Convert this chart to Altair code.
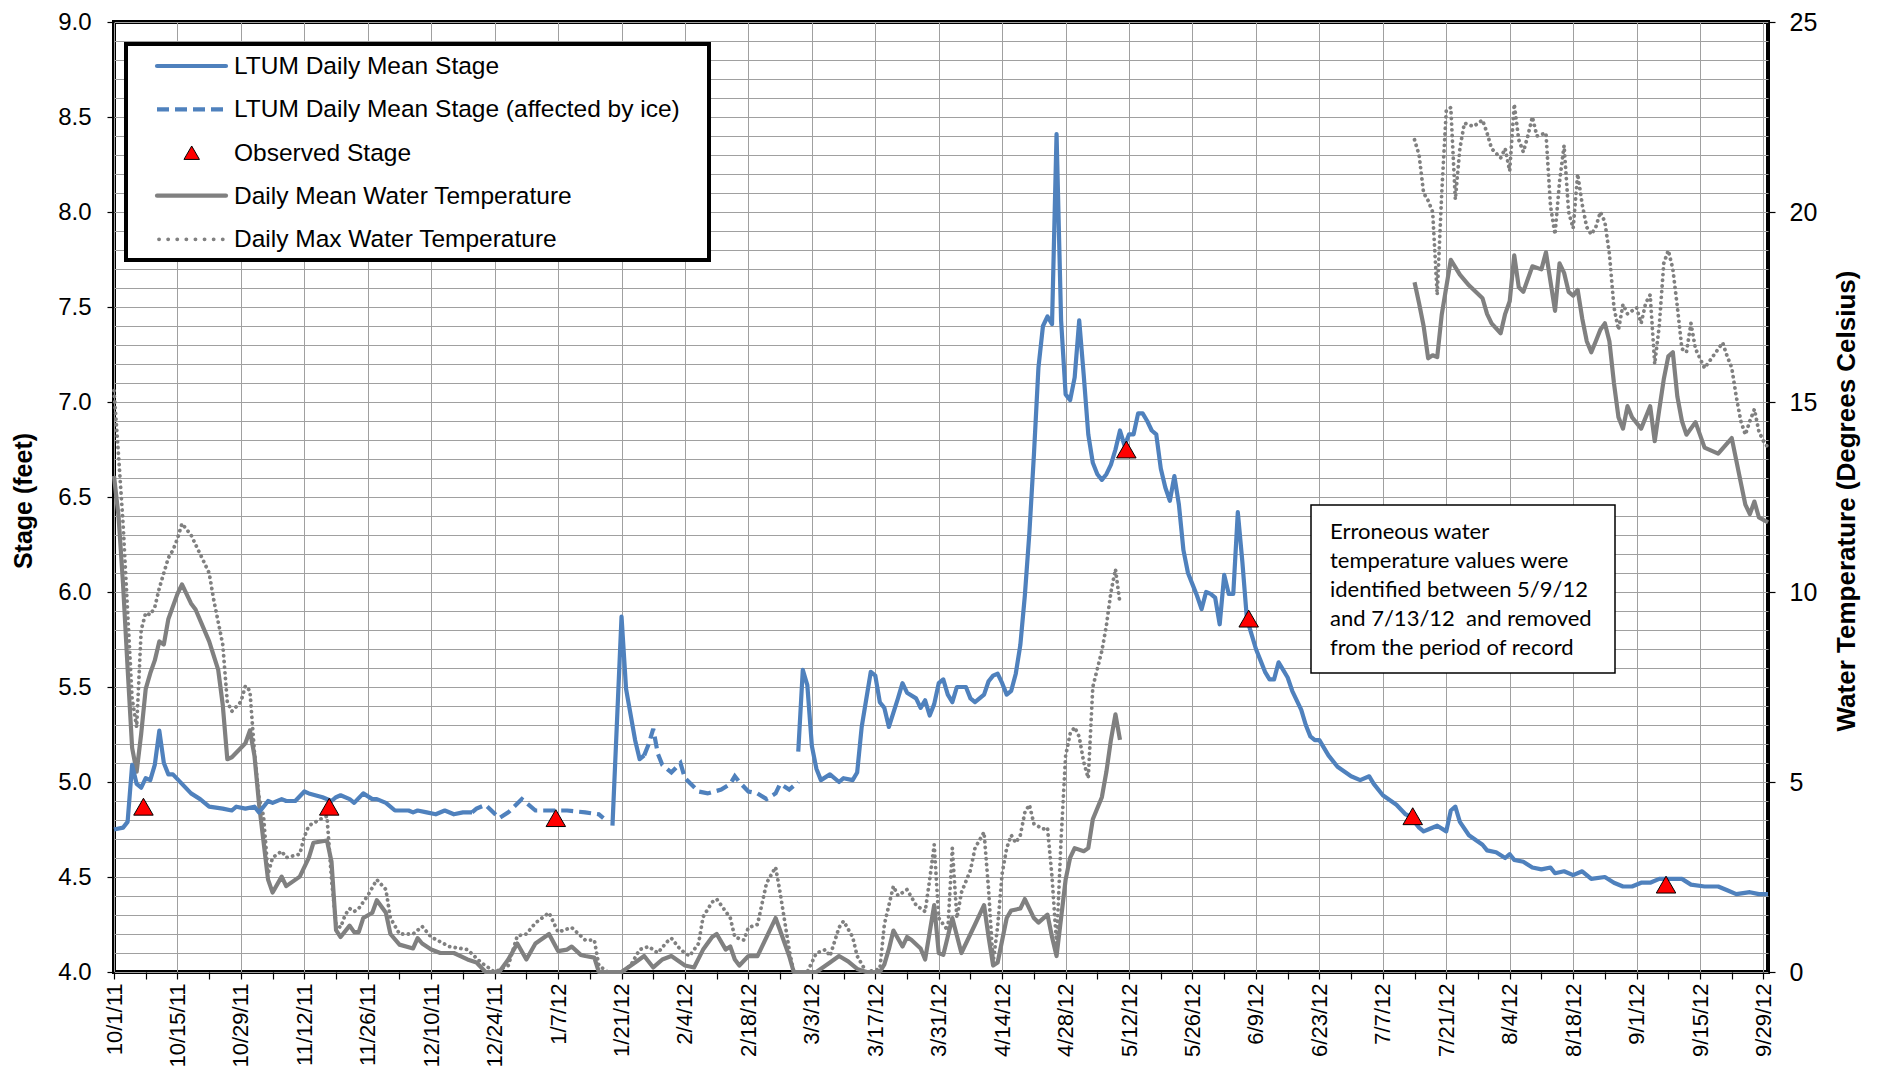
import json
import altair as alt
import pandas as pd

# ---------------- data (day = days after 10/1/2011) ----------------
STAGE_SOLID_1 = [(0,4.75),(2,4.76),(3,4.79),(4,5.09),(5,4.99),(6,4.97),(7,5.02),(8,5.01),(9,5.09),(10,5.27),
    (11,5.10),(12,5.04),(13,5.04),(15,4.99),(17,4.94),(19,4.91),(21,4.87),(24,4.86),(26,4.85),(27,4.87),
    (29,4.86),(31,4.87),(32,4.84),(33,4.87),(34,4.90),(35,4.89),(37,4.91),(38,4.90),(40,4.90),(42,4.95),
    (43,4.94),(46,4.92),(48,4.90),(49,4.92),(50,4.93),(52,4.91),(53,4.89),(55,4.94),(57,4.91),(58,4.91),
    (60,4.89),(62,4.85),(63,4.85),(65,4.85),(66,4.84),(67,4.85),(69,4.84),(71,4.83),(73,4.85),(75,4.83),
    (77,4.84),(79,4.84)]
STAGE_ICE_1 = [(79,4.84),(80,4.86),(82,4.88),(85,4.81),(87,4.84),(90,4.91),(93,4.85),(96,4.85),(100,4.85),
    (104,4.84),(107,4.83),(108,4.81)]
STAGE_SOLID_2 = [(110,4.77),(112,5.87),(113,5.49),(115,5.22),(116,5.12),(117,5.14)]
STAGE_ICE_2 = [(117,5.14),(118,5.20),(119,5.28),(120,5.15),(121,5.09),(123,5.05),(125,5.10),(126,5.02),
    (129,4.95),(131,4.94),(134,4.96),(136,4.99),(137,5.03),(138,5.00),(140,4.95),(142,4.94),(144,4.91),
    (146,4.94),(147,4.99),(149,4.96),(151,5.00)]
STAGE_SOLID_3 = [(151,5.16),(152,5.59),(153,5.51),(154,5.19),(155,5.07),(156,5.01),(158,5.04),(160,5.00),
    (161,5.02),(163,5.01),(164,5.05),(165,5.29),(167,5.58),(168,5.56),(169,5.42),(170,5.39),(171,5.29),
    (173,5.44),(174,5.52),(175,5.47),(177,5.44),(178,5.39),(179,5.43),(180,5.35),(181,5.41),(182,5.52),
    (183,5.54),(184,5.46),(185,5.42),(186,5.50),(188,5.50),(189,5.44),(190,5.42),(192,5.46),(193,5.53),
    (194,5.56),(195,5.57),(196,5.52),(197,5.46),(198,5.48),(199,5.57),(200,5.72),(201,5.98),(202,6.31),
    (203,6.72),(204,7.18),(205,7.40),(206,7.45),(207,7.41),(208,8.41),(209,7.43),(210,7.04),(211,7.01),
    (212,7.13),(213,7.43),(214,7.14),(215,6.83),(216,6.68),(217,6.62),(218,6.59),(219,6.62),(220,6.67),
    (221,6.75),(222,6.85),(223,6.77),(224,6.83),(225,6.83),(226,6.94),(227,6.94),(228,6.90),(229,6.85),
    (230,6.83),(231,6.65),(232,6.55),(233,6.48),(234,6.61),(235,6.46),(236,6.22),(237,6.10),(238,6.04),
    (239,5.98),(240,5.91),(241,6.00),(242,5.99),(243,5.97),(244,5.83),(245,6.09),(246,5.99),(247,5.99),
    (248,6.42),(249,6.16),(250,5.86),(251,5.78),(252,5.70),(253,5.64),(254,5.58),(255,5.54),(256,5.54),
    (257,5.63),(258,5.59),(259,5.55),(260,5.48),(261,5.43),(262,5.38),(263,5.30),(264,5.24),(265,5.22),
    (266,5.22),(268,5.14),(270,5.08),(273,5.03),(275,5.01),(277,5.03),(278,4.99),(280,4.93),(283,4.88),
    (285,4.83),(286,4.82),(287,4.79),(288,4.76),(289,4.74),(290,4.75),(292,4.77),(294,4.74),(295,4.85),
    (296,4.87),(297,4.79),(299,4.72),(302,4.67),(303,4.64),(305,4.63),(307,4.60),(308,4.62),(309,4.59),
    (311,4.58),(313,4.55),(315,4.54),(317,4.55),(318,4.52),(320,4.53),(322,4.51),(324,4.53),(326,4.49),
    (329,4.50),(331,4.47),(333,4.45),(335,4.45),(337,4.47),(339,4.47),(341,4.49),(343,4.49),(346,4.49),
    (348,4.46),(351,4.45),(354,4.45),(356,4.43),(358,4.41),(361,4.42),(363,4.41),(365,4.41)]
OBSERVED_STAGE = [(6.5,4.87),(47.5,4.87),(97.5,4.81),(223.4,6.75),(250.4,5.86),(286.6,4.82),(342.5,4.46)]

TEMP_MEAN_1 = [(0,13.05),(1,12.0),(2,10.2),(3,8.0),(4,5.9),(5,5.27),(6,6.27),(7,7.45),(8,7.86),(9,8.2),
    (10,8.7),(11,8.62),(12,9.29),(14,9.95),(15,10.2),(17,9.7),(18,9.54),(21,8.7),(23,7.95),(24,7.03),
    (25,5.6),(26,5.65),(29,6.02),(30,6.36),(31,5.69),(32,4.43),(34,2.43),(35,2.09),(37,2.51),(38,2.26),
    (41,2.51),(43,3.01),(44,3.40),(47,3.46),(48,2.9),(49,1.1),(50,0.92),(52,1.22),(53,1.05),(54,1.05),
    (55,1.42),(57,1.56),(58,1.89),(60,1.56),(61,1.0),(63,0.72),(66,0.62),(67,0.89),(68,0.75),(70,0.59),
    (72,0.5),(75,0.5),(78,0.33),(80,0.25),(82,0.0),(85,0.0),(87,0.33),(89,0.75),(91,0.33),(93,0.75),
    (96,1.0),(98,0.55),(100,0.59),(101,0.67),(103,0.45),(104,0.42),(106,0.38),(107,0.0),(112,0.0),
    (115,0.25),(117,0.42),(119,0.12),(121,0.33),(123,0.42),(126,0.17),(128,0.12),(130,0.59),(132,0.92),
    (133,1.0),(135,0.59),(136,0.67),(137,0.33),(138,0.17),(140,0.42),(142,0.42),(143,0.67),(145,1.17),
    (146,1.42),(147,1.09),(149,0.42),(150,0.0),(155,0.0),(158,0.25),(160,0.42),(162,0.28),(164,0.08),
    (166,0.0),(169,0.0),(170,0.2),(171,0.6),(172,1.09),(174,0.67),(175,0.92),(176,0.84),(178,0.62),
    (179,0.33),(181,1.76),(182,0.5),(183,0.45),(185,1.42),(187,0.5),(190,1.25),(192,1.76),(193,0.92),
    (194,0.17),(195,0.25),(197,1.42),(198,1.62),(200,1.67),(201,1.92),(203,1.42),(204,1.30),(206,1.51),
    (207,0.92),(208,0.42),(209,1.42),(210,2.43),(211,3.01),(212,3.26),(214,3.18),(215,3.26),(216,4.02),
    (218,4.6),(219,5.27),(220,6.11),(221,6.78),(222,6.11)]
TEMP_MEAN_2 = [(287,18.15),(288,17.6),(289,17.0),(290,16.15),(291,16.23),(292,16.18),(293,17.3),(295,18.74),
    (297,18.35),(299,18.07),(302,17.73),(303,17.32),(304,17.07),(306,16.81),(307,17.32),(308,17.65),
    (309,18.86),(310,18.02),(311,17.9),(313,18.57),(315,18.49),(316,18.94),(318,17.40),(319,18.65),
    (320,18.4),(321,17.9),(322,17.8),(323,17.95),(324,17.2),(325,16.6),(326,16.31),(327,16.6),(328,16.9),
    (329,17.07),(330,16.6),(331,15.5),(332,14.6),(333,14.3),(334,14.89),(335,14.6),(337,14.3),(339,14.89),
    (340,13.97),(341,14.8),(342,15.6),(343,16.2),(344,16.31),(345,15.14),(346,14.5),(347,14.14),
    (349,14.47),(351,13.8),(354,13.64),(357,14.05),(359,12.88),(360,12.3),(361,12.05),(362,12.38),
    (363,11.96),(365,11.83)]
TEMP_MAX_1 = [(0,15.3),(1,13.6),(2,11.8),(3,9.5),(4,7.2),(5,6.44),(6,9.0),(7,9.45),(8,9.4),(9,9.6),
    (10,10.1),(11,10.5),(12,10.9),(13,11.1),(14,11.4),(15,11.8),(17,11.5),(19,11.0),(21,10.5),(22,9.8),
    (24,8.62),(25,7.11),(26,6.86),(28,7.11),(29,7.53),(30,7.4),(31,5.77),(32,4.6),(33,4.1),(34,2.59),
    (35,3.01),(37,3.18),(38,3.01),(41,3.10),(42,3.56),(43,3.85),(46,4.05),(47,4.10),(48,2.43),(49,1.25),
    (50,1.17),(51,1.5),(52,1.67),(53,1.59),(54,1.67),(56,2.01),(58,2.43),(60,2.17),(61,1.42),(63,1.0),
    (66,1.0),(68,1.2),(70,0.92),(74,0.67),(78,0.59),(81,0.25),(84,0.0),(87,0.17),(89,0.95),(91,1.0),
    (93,1.29),(96,1.56),(98,1.05),(101,1.17),(104,0.84),(106,0.84),(107,0.17),(109,0.0),(112,0.0),
    (114,0.17),(116,0.59),(118,0.67),(120,0.5),(122,0.79),(123,0.89),(125,0.59),(127,0.42),(129,0.75),
    (130,1.45),(132,1.84),(133,1.92),(135,1.59),(136,1.42),(137,0.92),(139,0.84),(140,1.17),(142,1.25),
    (144,2.34),(146,2.76),(147,2.09),(149,0.59),(150,0.0),(153,0.0),(155,0.5),(157,0.59),(158,0.42),
    (160,1.17),(161,1.34),(163,0.92),(164,0.42),(166,0.0),(169,0.08),(170,1.25),(172,2.26),(173,2.01),
    (175,2.17),(177,1.76),(179,1.59),(180,2.43),(181,3.35),(182,1.42),(184,1.09),(185,3.26),(186,1.42),
    (187,2.09),(189,2.68),(190,3.26),(192,3.68),(193,2.17),(194,0.25),(195,1.2),(196,2.6),(197,3.26),
    (198,3.6),(199,3.4),(200,3.6),(201,4.2),(202,4.4),(203,3.9),(205,3.76),(206,3.8),(207,2.5),(208,0.75),
    (209,3.5),(210,5.69),(211,6.27),(212,6.44),(213,6.19),(214,5.52),(215,5.10),(216,7.5),(218,8.45),
    (219,9.12),(220,10.0),(221,10.6),(222,9.7)]
TEMP_MAX_2 = [(287,21.9),(288,21.5),(289,20.5),(290,20.3),(291,20.0),(292,17.82),(293,20.5),(294,22.67),
    (295,22.75),(296,20.33),(297,21.67),(298,22.34),(300,22.25),(302,22.42),(303,22.08),(304,21.67),
    (306,21.42),(307,21.67),(308,21.08),(309,22.84),(310,21.9),(311,21.58),(312,22.0),(313,22.5),(314,22.0),
    (316,22.08),(317,20.16),(318,19.41),(319,20.8),(320,21.75),(321,20.0),(322,19.57),(323,21.0),(324,20.2),
    (325,19.6),(326,19.41),(327,19.6),(328,20.0),(329,19.74),(330,18.9),(331,17.5),(332,16.9),(333,17.57),
    (334,17.32),(336,17.48),(337,17.07),(338,17.6),(339,17.82),(340,16.0),(341,17.0),(342,18.65),
    (343,18.99),(344,18.5),(345,17.5),(346,16.4),(347,16.31),(348,17.07),(349,16.4),(351,15.89),
    (352,16.06),(355,16.56),(356,16.2),(357,15.9),(358,15.14),(359,14.5),(360,14.14),(361,14.5),
    (362,14.81),(363,14.22),(364,13.97),(365,13.80)]

TICK_LABELS = ["10/1/11", "10/15/11", "10/29/11", "11/12/11", "11/26/11", "12/10/11", "12/24/11",
               "1/7/12", "1/21/12", "2/4/12", "2/18/12", "3/3/12", "3/17/12", "3/31/12", "4/14/12",
               "4/28/12", "5/12/12", "5/26/12", "6/9/12", "6/23/12", "7/7/12", "7/21/12", "8/4/12",
               "8/18/12", "9/1/12", "9/15/12", "9/29/12"]
STAGE_TICKS = [round(4.0 + 0.1 * i, 1) for i in range(51)]
TEMP_TICKS = [0, 5, 10, 15, 20, 25]
LEGEND_LABELS = ["LTUM Daily Mean Stage", "LTUM Daily Mean Stage (affected by ice)", "Observed Stage",
                 "Daily Mean Water Temperature", "Daily Max Water Temperature"]
NOTE_LINES = ["Erroneous water", "temperature values were", "identified between 5/9/12",
              "and 7/13/12\u00a0 and removed", "from the period of record"]

BLUE = "#4f81bd"
GRAY = "#808080"
FONT = "Liberation Sans"
W, H = 1654, 950
TOP = 14  # plot top edge (px below svg top); plot spans y 22..972 on the page


def frame(pairs, seg):
    df = pd.DataFrame(pairs, columns=["day", "value"])
    df["seg"] = seg
    return df


stage_solid = pd.concat([frame(STAGE_SOLID_1, "a"), frame(STAGE_SOLID_2, "b"), frame(STAGE_SOLID_3, "c")])
stage_ice = pd.concat([frame(STAGE_ICE_1, "a"), frame(STAGE_ICE_2, "b")])
observed = frame(OBSERVED_STAGE, "o")
temp_mean = pd.concat([frame(TEMP_MEAN_1, "a"), frame(TEMP_MEAN_2, "b")])
temp_max = pd.concat([frame(TEMP_MAX_1, "a"), frame(TEMP_MAX_2, "b")])

x_days = [7 * i for i in range(53)]
x_axis = alt.Axis(
    values=x_days,
    labelExpr=f"datum.value % 14 == 0 ? {json.dumps(TICK_LABELS)}[datum.value / 14] : ''",
    labelAngle=270, labelFont=FONT, labelFontSize=22, labelColor="black", labelPadding=4,
    labelOverlap=False, labelBound=False, labelFlush=False,
    tickColor="black", tickSize=7, tickWidth=1.2,
    grid=True, gridColor="#a0a0a0", gridWidth=1,
    gridOpacity={"condition": {"test": "datum.value % 14 == 0", "value": 1}, "value": 0},
    domain=False, title="")
X = alt.X("day:Q", scale=alt.Scale(domain=[0, 365], nice=False, zero=False), axis=x_axis)

stage_axis = alt.Axis(
    values=STAGE_TICKS, orient="left",
    labelExpr="round(datum.value * 10) % 5 == 0 ? format(datum.value, '.1f') : ''",
    labelFont=FONT, labelFontSize=24, labelColor="black", labelPadding=16, labelOverlap=False,
    tickColor="black", tickWidth=1.2,
    tickSize={"condition": {"test": "round(datum.value * 10) % 5 == 0", "value": 7}, "value": 0},
    grid=True, gridColor="#a0a0a0", gridWidth=1, domain=False, title="")
Y_STAGE = alt.Y("value:Q", scale=alt.Scale(domain=[4, 9], nice=False, zero=False), axis=stage_axis)

temp_axis = alt.Axis(values=TEMP_TICKS, orient="right", labelFont=FONT, labelFontSize=25,
                     labelColor="black", labelPadding=14, tickColor="black", tickSize=7, tickWidth=1.2,
                     grid=False, domain=False, title="")
Y_TEMP = alt.Y("value:Q", scale=alt.Scale(domain=[0, 25], nice=False, zero=False), axis=temp_axis)

mean_line = alt.Chart(temp_mean).mark_line(color=GRAY, strokeWidth=4.2, strokeJoin="round").encode(
    x=X, y=Y_TEMP, detail="seg:N", order="day:Q")
max_line = alt.Chart(temp_max).mark_line(color=GRAY, strokeWidth=3.8, strokeDash=[0.1, 5.6],
                                         strokeCap="round", strokeJoin="round").encode(
    x=X, y=Y_TEMP, detail="seg:N", order="day:Q")
temp_group = alt.layer(mean_line, max_line)

ice_line = alt.Chart(stage_ice).mark_line(color=BLUE, strokeWidth=4.2, strokeDash=[12, 6]).encode(
    x=X, y=Y_STAGE, detail="seg:N", order="day:Q")
solid_line = alt.Chart(stage_solid).mark_line(color=BLUE, strokeWidth=4.2, strokeJoin="round").encode(
    x=X, y=Y_STAGE, detail="seg:N", order="day:Q")
obs_pts = alt.Chart(observed).mark_point(shape="triangle-up", filled=True, fill="#ff0000", stroke="black",
                                         strokeWidth=1, size=380, opacity=1).encode(x=X, y=Y_STAGE)
stage_group = alt.layer(ice_line, solid_line, obs_pts)

one = pd.DataFrame({"k": [0]})
dy = 19 - 8 - TOP  # offset so decorations keep their page positions

# legend
LEG_Y = [v + dy for v in [47, 90.3, 133.7, 176.7, 220.3]]
deco = [
    alt.Chart(one).mark_rect(fill="white", stroke="black", strokeWidth=4).encode(
        x=alt.value(12), x2=alt.value(595), y=alt.value(25 + dy), y2=alt.value(241 + dy)),
    alt.Chart(one).mark_rule(color=BLUE, strokeWidth=4.2, strokeCap="round").encode(
        x=alt.value(43), x2=alt.value(112), y=alt.value(LEG_Y[0])),
    alt.Chart(one).mark_rule(color=BLUE, strokeWidth=4.2, strokeDash=[12, 6]).encode(
        x=alt.value(43), x2=alt.value(113), y=alt.value(LEG_Y[1])),
    alt.Chart(one).mark_point(shape="triangle-up", filled=True, fill="#ff0000", stroke="black",
                              strokeWidth=1, size=240, opacity=1).encode(
        x=alt.value(77.7), y=alt.value(LEG_Y[2])),
    alt.Chart(one).mark_rule(color=GRAY, strokeWidth=4.2, strokeCap="round").encode(
        x=alt.value(43), x2=alt.value(112), y=alt.value(LEG_Y[3])),
    alt.Chart(one).mark_rule(color=GRAY, strokeWidth=3.8, strokeDash=[0.1, 9], strokeCap="round").encode(
        x=alt.value(45), x2=alt.value(112), y=alt.value(LEG_Y[4])),
]
for label, ly in zip(LEGEND_LABELS, LEG_Y):
    deco.append(alt.Chart(one).mark_text(font=FONT, fontSize=24.5, align="left", baseline="middle",
                                         color="black").encode(
        x=alt.value(120), y=alt.value(ly + 1), text=alt.value(label)))

# note box
deco.append(alt.Chart(one).mark_rect(fill="white", stroke="black", strokeWidth=1.5).encode(
    x=alt.value(1197), x2=alt.value(1501), y=alt.value(486 + dy), y2=alt.value(654 + dy)))
deco.append(alt.Chart(one).mark_text(font="Lato", fontSize=22, align="left", baseline="alphabetic",
                                     lineHeight=29, color="black").encode(
    x=alt.value(1216), y=alt.value(520 + dy), text=alt.value(NOTE_LINES)))

# axis titles
deco.append(alt.Chart(one).mark_text(font=FONT, fontSize=25, fontWeight="bold", angle=270,
                                     align="center", baseline="middle", color="black").encode(
    x=alt.value(-90), y=alt.value(482 + dy), text=alt.value("Stage (feet)")))
deco.append(alt.Chart(one).mark_text(font=FONT, fontSize=26, fontWeight="bold", angle=270,
                                     align="center", baseline="middle", color="black").encode(
    x=alt.value(1733), y=alt.value(482 + dy), text=alt.value("Water Temperature (Degrees Celsius)")))

chart = alt.layer(temp_group, stage_group, *deco).resolve_scale(y="independent").properties(
    width=W, height=H,
    autosize=alt.AutoSizeParams(type="none"),
    padding={"left": 106, "top": TOP, "right": 100, "bottom": 99},
    background="white",
).configure_view(stroke="black", strokeWidth=4)

chart.save("out.html", embed_options={"renderer": "svg", "actions": False})
